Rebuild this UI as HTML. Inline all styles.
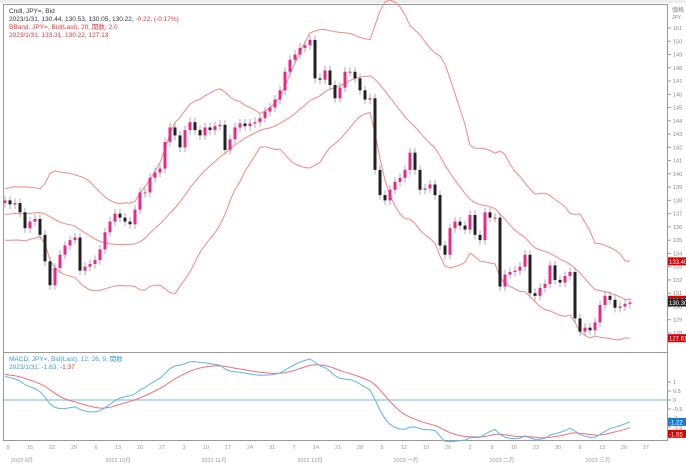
<!DOCTYPE html>
<html><head><meta charset="utf-8">
<style>
body{margin:0;background:#fff;font-family:"Liberation Sans","Noto Sans CJK SC",sans-serif;}
svg text{font-family:"Liberation Sans","Noto Sans CJK SC",sans-serif;}
</style></head>
<body>
<svg id="c" width="686" height="466" viewBox="0 0 686 466">
<rect x="0" y="0" width="686" height="466" fill="#fff"/>
<rect x="0" y="0" width="686" height="3" fill="#eee"/>
<rect x="3.5" y="4.5" width="664" height="348" fill="none" stroke="#999"/>
<rect x="3.5" y="352.5" width="664" height="88" fill="none" stroke="#999"/>
<g id="bands"></g><g id="candles"></g><g id="macd"></g><g id="axes"></g>
<g font-size="6.5">
<text x="9" y="13" fill="#333">Cndl, JPY=, Bid</text>
<text x="9" y="21" fill="#333">2023/1/31, 130.44, 130.53, 130.05, 130.22, <tspan fill="#e33">-0.22, (-0.17%)</tspan></text>
<text x="9" y="29" fill="#e33">BBand, JPY=, Bid(Last), 20, 関数, 2.0</text>
<text x="9" y="37" fill="#e33">2023/1/31, 133.31, 130.22, 127.13</text>
</g>
<g font-size="6.5">
<text x="9" y="361" fill="#3a9be0">MACD, JPY=, Bid(Last), 12, 26, 9, 関数</text>
<text x="9" y="369" fill="#3a9be0">2023/1/31, -1.63, <tspan fill="#e33">-1.37</tspan></text>
</g>
</svg>
<script>
const warmup=[127.5,128.0,128.6,128.3,129.2,129.8,130.5,130.2,131.0,131.6,131.3,132.2,132.8,133.5,133.1,134.0,134.6,135.2,134.8,135.6,
136.2,137.0,136.8,137.5,136.4,135.6,135.9,134.8,135.3,136.0,137.2,137.8,137.0,136.5,137.4,138.0,137.6,137.9,138.3,137.8];
const closes=[138.0,137.7,137.8,137.1,135.9,136.4,136.6,135.4,133.4,131.6,132.9,133.9,134.6,135.0,135.2,132.7,133.0,133.2,133.5,134.3,
135.6,136.4,137.0,136.7,136.4,136.2,137.3,138.6,138.6,139.7,140.1,140.4,142.4,143.5,142.9,142.0,143.3,143.9,143.3,142.9,
143.5,143.3,143.6,143.7,141.8,142.6,143.5,143.8,143.6,143.8,143.9,144.2,144.7,145.0,145.6,146.3,147.7,148.6,149.0,149.5,
149.7,150.1,147.2,147.1,147.8,146.7,145.7,146.5,147.7,147.7,147.2,146.3,145.6,145.7,140.3,138.4,138.0,138.8,139.4,139.7,
140.3,141.6,140.3,138.8,138.9,139.2,138.4,134.6,133.9,135.9,136.4,136.1,135.8,136.9,135.4,135.0,137.1,136.7,136.7,131.5,
132.4,132.6,132.7,133.0,133.9,131.0,130.8,131.4,131.7,133.1,132.0,131.8,132.3,132.6,129.1,128.1,128.4,128.2,128.8,130.1,
130.8,130.5,129.9,130.0,130.2,130.3];
const priceTicks=[151,150,149,148,147,146,145,144,143,142,141,140,139,138,137,136,135,134,133,132,131,130,129,128];
const macdTicks=[1,0.5,0,-0.5,-1,-1.5,-2];
const dayTicks=['8','15','22','29','6','13','20','27','3','10','17','24','31','7','14','21','28','5','12','19','26','2','9','16','23','30','6','13','20','27'];
const monthLabels=['2022 9月','2022 10月','2022 11月','2022 12月','2023 一月','2023 二月','2023 三月','2023 二月'];

const NS='http://www.w3.org/2000/svg';
function mk(tag,attrs,parent){const e=document.createElementNS(NS,tag);for(const k in attrs)e.setAttribute(k,attrs[k]);parent.appendChild(e);return e;}
const xS=i=>5+5*i;
const yP=p=>28+(151-p)*13.26;
const yM=v=>400-v*18;
const all=warmup.concat(closes);const W=warmup.length;
const up=[],mid=[],lo=[];
for(let i=0;i<closes.length;i++){const j=i+W;const s=all.slice(j-19,j+1);const m=s.reduce((a,b)=>a+b,0)/20;
const sd=Math.sqrt(s.reduce((a,b)=>a+(b-m)*(b-m),0)/20);mid.push(m);up.push(m+2*sd);lo.push(m-2*sd);}
const bands=document.getElementById('bands');
[[up,'upper-band'],[mid,'middle-band'],[lo,'lower-band']].forEach(([arr,n])=>{
const p=mk('polyline',{points:arr.map((v,i)=>xS(i)+','+yP(v).toFixed(1)).join(' '),fill:'none',stroke:'#f08a80','stroke-width':1},bands);

});
const cg=document.getElementById('candles');
closes.forEach((c,i)=>{const o=i===0?warmup[W-1]:closes[i-1];const hi=Math.max(o,c)+0.35,lw=Math.min(o,c)-0.35;
const col=c>=o?'#e8288a':'#222';const x=xS(i);
const g=mk('g',{},cg);


mk('line',{x1:x,x2:x,y1:yP(hi),y2:yP(lw),stroke:'#999','stroke-width':0.8},g);
const t=yP(Math.max(o,c)),b=yP(Math.min(o,c));
mk('rect',{x:x-1.5,y:t,width:3,height:Math.max(1,b-t),fill:col},g);});
function ema(a,n){const k=2/(n+1);const r=[a[0]];for(let i=1;i<a.length;i++)r.push(a[i]*k+r[i-1]*(1-k));return r;}
const e12=ema(all,12),e26=ema(all,26);const mac=all.map((v,i)=>e12[i]-e26[i]);const sig=ema(mac,9);
const mg=document.getElementById('macd');
const zl=mk('line',{x1:4,x2:667,y1:yM(0),y2:yM(0),stroke:'#8cc8ee','stroke-width':1.2},mg);


[[sig,'#f07070','signal-line'],[mac,'#5ab4f0','macd-line']].forEach(([arr,col,n])=>{
const p=mk('polyline',{points:closes.map((_,i)=>xS(i)+','+yM(arr[i+W]).toFixed(1)).join(' '),fill:'none',stroke:col,'stroke-width':1},mg);

});
const ax=document.getElementById('axes');
const t1=mk('text',{x:672,y:12,'font-size':6,fill:'#888'},ax);t1.textContent='価格';
const t2=mk('text',{x:672,y:19,'font-size':5,fill:'#888'},ax);t2.textContent='JPY';
priceTicks.forEach(p=>{const y=yP(p);mk('line',{x1:668,x2:671,y1:y,y2:y,stroke:'#999'},ax);
const t=mk('text',{x:673,y:y+2,'font-size':5.5,fill:'#888'},ax);t.textContent=p;

});
macdTicks.forEach(v=>{const y=yM(v);mk('line',{x1:668,x2:671,y1:y,y2:y,stroke:'#999'},ax);
const t=mk('text',{x:673,y:y+2,'font-size':5.5,fill:'#888'},ax);t.textContent=v;

});
const n=closes.length-1;
function tag(y,txt,col,nm){const g=mk('g',{},ax);
mk('rect',{x:668,y:y-4,width:18,height:8,fill:col},g);const t=mk('text',{x:669,y:y+2.5,'font-size':6,fill:'#fff'},g);t.textContent=txt;}
tag(yP(up[n]),up[n].toFixed(2),'#d00','upper-band-value');
tag(yP(mid[n]),mid[n].toFixed(2),'#d00','middle-band-value');
tag(yP(closes[n]),closes[n].toFixed(2),'#222','close-value');
tag(yP(lo[n]),lo[n].toFixed(2),'#d00','lower-band-value');
tag(yM(mac[n+W]),mac[n+W].toFixed(2),'#1a7ad0','macd-value');
tag(yM(sig[n+W])+6,sig[n+W].toFixed(2),'#d00','signal-value');
dayTicks.forEach((d,k)=>{const x=8+22*k;const t=mk('text',{x:x,y:449,'font-size':5.5,fill:'#999','text-anchor':'middle'},ax);t.textContent=d;

});
monthLabels.forEach((m,k)=>{const x=22+96*k;if(x>680)return;const t=mk('text',{x:x,y:462,'font-size':5.5,fill:'#999','text-anchor':'middle'},ax);t.textContent=m;

});
</script>
</body></html>
